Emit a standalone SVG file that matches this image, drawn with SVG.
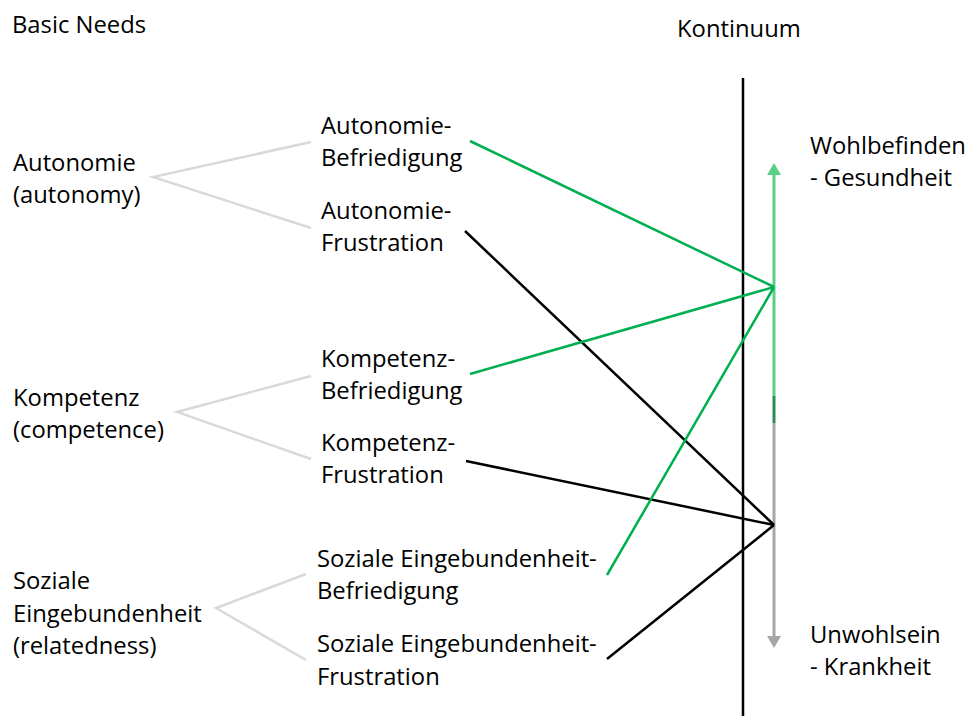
<svg xmlns="http://www.w3.org/2000/svg" width="970" height="716" viewBox="0 0 970 716">
<style>
text { font-family: "Open Sans", "Liberation Sans", sans-serif; font-size: 23.8px; fill: #000; }
.tree { stroke: #d9d9d9; stroke-width: 2.5; fill: none; }
.g { stroke: #00b050; stroke-width: 2.5; fill: none; }
.k { stroke: #000; stroke-width: 2.5; fill: none; }
</style>
<rect width="970" height="716" fill="#fff"/>
<g id="labels">
<text x="12" y="33">Basic Needs</text>
<text x="677" y="37">Kontinuum</text>
</g>
<g id="axis">
<line x1="743" y1="78" x2="743" y2="716" stroke="#000" stroke-width="2.5"/>
<line x1="774" y1="172" x2="774" y2="396" stroke="#5ccf86" stroke-width="3"/>
<polygon points="774,163 767,175 781,175" fill="#5ccf86"/>
<line x1="774" y1="396" x2="774" y2="423" stroke="#2e8b57" stroke-width="3"/>
<line x1="774" y1="423" x2="774" y2="638" stroke="#a6a6a6" stroke-width="3"/>
<polygon points="774,648 767,636 781,636" fill="#a6a6a6"/>
</g>
<g id="n-autonomie"><text x="13" y="171">Autonomie</text><text x="13" y="203">(autonomy)</text></g>
<g id="n-kompetenz"><text x="13" y="406">Kompetenz</text><text x="13" y="438">(competence)</text></g>
<g id="n-soziale"><text x="13" y="589">Soziale</text><text x="13" y="622">Eingebundenheit</text><text x="13" y="654">(relatedness)</text></g>
<g id="n-aut-bef"><text x="321" y="134">Autonomie-</text><text x="321" y="166">Befriedigung</text></g>
<g id="n-aut-fru"><text x="321" y="219">Autonomie-</text><text x="321" y="251">Frustration</text></g>
<g id="n-kom-bef"><text x="321" y="367">Kompetenz-</text><text x="321" y="399">Befriedigung</text></g>
<g id="n-kom-fru"><text x="321" y="451">Kompetenz-</text><text x="321" y="483">Frustration</text></g>
<g id="n-soz-bef"><text x="317" y="567">Soziale Eingebundenheit-</text><text x="317" y="599">Befriedigung</text></g>
<g id="n-soz-fru"><text x="317" y="652">Soziale Eingebundenheit-</text><text x="317" y="685">Frustration</text></g>
<g id="n-wohl"><text x="810" y="154">Wohlbefinden</text><text x="810" y="186">- Gesundheit</text></g>
<g id="n-unwohl"><text x="810" y="643">Unwohlsein</text><text x="810" y="675">- Krankheit</text></g>
<g id="connectors">
<polyline class="tree" points="311,142 153,177 311,228"/>
<polyline class="tree" points="311,376 177,412 311,459"/>
<polyline class="tree" points="306,574 216,608 306,660"/>
<line class="g" x1="470" y1="141" x2="774" y2="287"/>
<line class="k" x1="465" y1="231" x2="774" y2="525"/>
<line class="g" x1="470" y1="374" x2="774" y2="287"/>
<line class="k" x1="466" y1="461" x2="774" y2="525"/>
<line class="g" x1="607" y1="575" x2="774" y2="287"/>
<line class="k" x1="607" y1="659" x2="774" y2="525"/>
</g>
</svg>
